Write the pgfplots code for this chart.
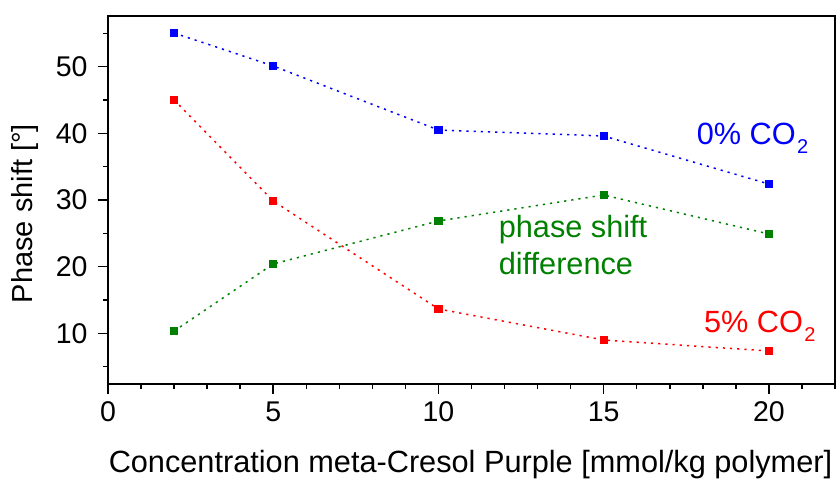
\documentclass[border=0pt]{standalone}
\usepackage{pgfplots}
\pgfplotsset{compat=1.18}
\usepackage{fontspec}
\setmainfont{Liberation Sans}
\definecolor{cblue}{RGB}{0,0,255}
\definecolor{cred}{RGB}{255,0,0}
\definecolor{cgreen}{RGB}{0,128,0}
\newcommand{\sub}[1]{\hspace{1.5pt}\raisebox{-9pt}{\fontsize{20}{22}\selectfont #1}}
\newcommand{\tf}{\fontsize{28.5}{32}\selectfont}
\begin{document}
\begin{tikzpicture}
\begin{axis}[
  scale only axis,
  width=727pt, height=368pt,
  xmin=0, xmax=22, ymin=2.4, ymax=57.6,
  axis line style={line width=2pt},
  xtick={0,5,10,15,20},
  minor xtick={1,2,3,4,6,7,8,9,11,12,13,14,16,17,18,19,21,22},
  ytick={10,20,30,40,50},
  minor ytick={5,15,25,35,45,55},
  xticklabels={0,5,10,15,20},
  yticklabels={10,20,30,40,50},
  tick align=outside,
  xtick pos=bottom, ytick pos=left,
  major tick length=10pt, minor tick length=5pt,
  every tick/.style={black, line width=1.5pt},
  tick label style={font=\tf},
  xticklabel style={yshift=-4pt},
  yticklabel style={xshift=-7pt},
  xlabel={Concentration meta-Cresol Purple [mmol/kg polymer]},
  ylabel={Phase shift [°]},
  xlabel style={font=\fontsize{30.7}{34}\selectfont, at={(axis description cs:0.4986,-0.2418)}, anchor=base},
  ylabel style={font=\fontsize{29}{32}\selectfont, at={(axis description cs:-0.114,0.463)}, anchor=center},
  clip=false,
]
\addplot[cblue, line width=1.5pt, dash pattern=on 2.2pt off 5pt, mark=square*, mark size=3.4pt, mark options={solid}]
  coordinates {(2,55.05) (5,50.1) (10,40.5) (15,39.6) (20,32.4)};
\addplot[cred, line width=1.5pt, dash pattern=on 2.2pt off 5pt, mark=square*, mark size=3.4pt, mark options={solid}]
  coordinates {(2,45.0) (5,29.85) (10,13.65) (15,9.0) (20,7.35)};
\addplot[cgreen, line width=1.5pt, dash pattern=on 2.2pt off 5pt, mark=square*, mark size=3.4pt, mark options={solid}]
  coordinates {(2,10.35) (5,20.4) (10,26.85) (15,30.75) (20,24.9)};
\node[anchor=base east, text=cblue, font=\fontsize{30.7}{34}\selectfont, inner sep=0pt] at (axis cs:21.2,38.25) {0\% CO\sub{2}};
\node[anchor=base west, text=cred, font=\fontsize{30.7}{34}\selectfont, inner sep=0pt] at (axis cs:18.03,10.05) {5\% CO\sub{2}};
\node[anchor=base west, text=cgreen, font=\fontsize{30.7}{34}\selectfont, inner sep=0pt] at (axis cs:11.82,24.3) {phase shift};
\node[anchor=base west, text=cgreen, font=\fontsize{30.7}{34}\selectfont, inner sep=0pt] at (axis cs:11.82,18.75) {difference};
\end{axis}
\path (current axis.south west) ++(-108pt,-94pt) coordinate (bbA);
\path (current axis.north east) ++(2pt,16pt) coordinate (bbB);
\path (bbA) rectangle (bbB);
\end{tikzpicture}
\end{document}
